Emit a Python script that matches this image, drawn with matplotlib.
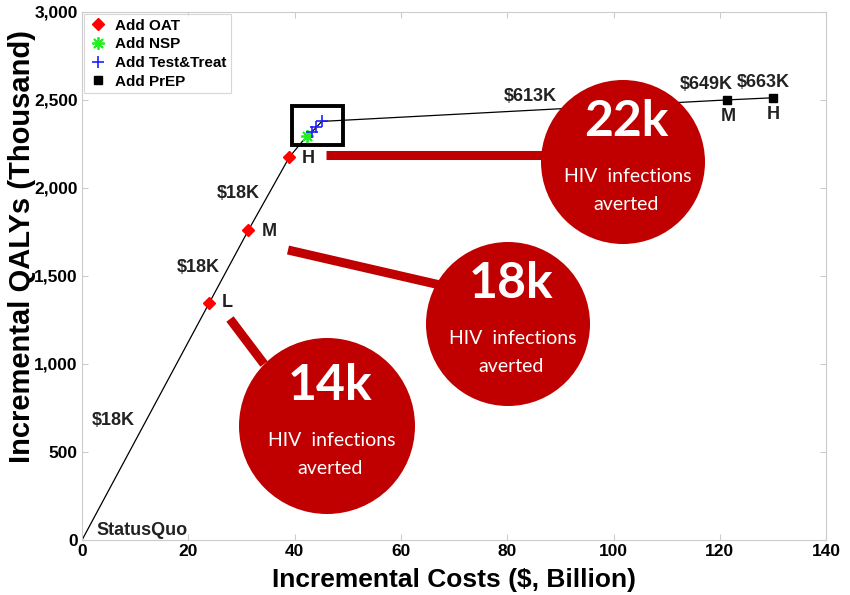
import matplotlib.pyplot as plt
from matplotlib.patches import Circle, Rectangle
from matplotlib.ticker import FuncFormatter

plt.rcParams['font.family'] = ['Liberation Sans', 'DejaVu Sans']

# strategy points (cost in $ billion, QALYs in thousand)
oat_cost = [23.9, 31.3, 39.0]
oat_qaly = [1345, 1760, 2175]
nsp_cost = [42.3]
nsp_qaly = [2295]
tt_cost = [43.3, 44.1, 45.1]
tt_qaly = [2320, 2345, 2378]
prep_cost = [121.3, 129.9]
prep_qaly = [2500, 2512]

frontier_cost = [0] + oat_cost + nsp_cost + tt_cost + prep_cost
frontier_qaly = [0] + oat_qaly + nsp_qaly + tt_qaly + prep_qaly

# ICER labels: text, x, y
icer_labels = ["$18K", "$18K", "$18K", "$613K", "$649K", "$663K"]
icer_x = [5.8, 21.8, 29.4, 84.3, 117.4, 128.2]
icer_y = [680, 1550, 1970, 2520, 2585, 2600]

oat_levels = ["L", "M", "H"]
oat_level_x = [27.3, 35.2, 42.6]
oat_level_y = [1350, 1755, 2165]
prep_levels = ["M", "H"]
prep_level_x = [121.6, 130.0]
prep_level_y = [2455, 2467]

# callout circles (figure pixels)
bubble_text = ["22k", "18k", "14k"]
bubble_cx = [623, 508, 327]
bubble_cy = [162, 324, 426]
bubble_r = [82, 82, 88]
conn_x = [(326, 548), (288, 440), (230, 264)]
conn_y = [(155, 155), (250, 285), (319, 364)]

red = '#C00000'
txt = '#222222'

fig = plt.figure(figsize=(8.5, 5.95), dpi=100)
ax = fig.add_axes([0.0965, 0.0924, 0.8755, 0.8876])

ax.plot(frontier_cost, frontier_qaly, color='black', lw=0.9, zorder=2)
ax.plot(oat_cost, oat_qaly, 'D', color='red', ms=6, mec='red', ls='none', label='Add OAT', zorder=3)
ax.plot(nsp_cost, nsp_qaly, marker=(8, 2, 0), color='#22ee22', ms=9, mew=1.3, ls='none', label='Add NSP', zorder=3)
ax.plot(tt_cost, tt_qaly, '+', color='#2020ff', ms=8, mew=1.2, ls='none', label='Add Test&Treat', zorder=3)
ax.plot(prep_cost, prep_qaly, 's', color='black', ms=6, ls='none', label='Add PrEP', zorder=3)

ax.add_patch(Rectangle((39.5, 2245), 9.6, 220, fill=False, ec='black', lw=2.8, zorder=4))

for t, x, y in zip(icer_labels, icer_x, icer_y):
    ax.text(x, y, t, ha='center', va='center', fontsize=13, fontweight='bold', color=txt)
for t, x, y in zip(oat_levels, oat_level_x, oat_level_y):
    ax.text(x, y, t, ha='center', va='center', fontsize=13, fontweight='bold', color=txt)
for t, x, y in zip(prep_levels, prep_level_x, prep_level_y):
    ax.text(x, y, t, ha='center', va='top', fontsize=13, fontweight='bold', color=txt)
ax.text(2.8, 55, "StatusQuo", ha='left', va='center', fontsize=13, fontweight='bold', color=txt)

ax.set_xlim(0, 140)
ax.set_ylim(0, 3000)
ax.set_xticks(range(0, 141, 20))
ax.set_yticks(range(0, 3001, 500))
ax.yaxis.set_major_formatter(FuncFormatter(lambda v, p: f"{int(v):,}"))
ax.tick_params(direction='in', top=True, right=True, color='#cccccc', length=4,
               labelsize=12.5, pad=3)
for lab in ax.get_xticklabels() + ax.get_yticklabels():
    lab.set_fontweight('bold')
for s in ax.spines.values():
    s.set_color('#cccccc')
ax.set_xlabel("Incremental Costs ($, Billion)", fontsize=19, fontweight='bold', labelpad=6)
ax.set_ylabel("Incremental QALYs (Thousand)", fontsize=21, fontweight='bold')
ax.yaxis.set_label_coords(-0.062, 0.555)

leg = ax.legend(loc='upper left', prop={'weight': 'bold', 'size': 11},
                frameon=True, fancybox=False, borderpad=0.3, labelspacing=0.3,
                handletextpad=0.5, handlelength=1.2, borderaxespad=0.15)
leg.get_frame().set_edgecolor('#cccccc')
leg.get_frame().set_linewidth(0.8)

# overlay in pixel coordinates for callouts
ov = fig.add_axes([0, 0, 1, 1])
ov.set_xlim(0, 850)
ov.set_ylim(595, 0)
ov.axis('off')
for (x0, x1), (y0, y1) in zip(conn_x, conn_y):
    ov.plot([x0, x1], [y0, y1], color=red, lw=6.5, solid_capstyle='butt')
for t, cx, cy, r in zip(bubble_text, bubble_cx, bubble_cy, bubble_r):
    ov.add_patch(Circle((cx, cy), r, color=red, ec='none'))
    ov.text(cx + 3, cy - 40, t, ha='center', va='center', color='white',
            fontsize=36, fontweight='bold', family='Lato')
    ov.text(cx + 5, cy + 14, "HIV  infections", ha='center', va='center', color='white',
            fontsize=14, family='Lato')
    ov.text(cx + 3, cy + 43, "averted", ha='center', va='center', color='white',
            fontsize=14, family='Lato')

fig.savefig('out.png', dpi=100)
